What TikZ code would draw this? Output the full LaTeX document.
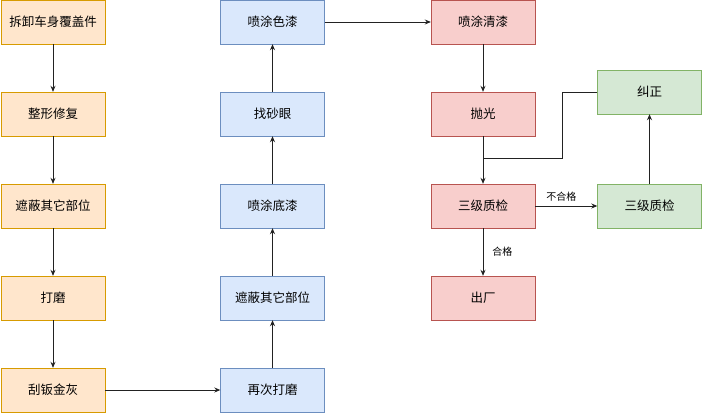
\documentclass[tikz,border=0pt]{standalone}
\usepackage{fontspec}
\setmainfont{Noto Sans CJK SC}
\usetikzlibrary{arrows.meta, positioning}
\definecolor{orfill}{HTML}{FFE6CC}\definecolor{ordraw}{HTML}{D79B00}
\definecolor{blfill}{HTML}{DAE8FC}\definecolor{bldraw}{HTML}{6C8EBF}
\definecolor{rdfill}{HTML}{F8CECC}\definecolor{rddraw}{HTML}{B85450}
\definecolor{grfill}{HTML}{D5E8D4}\definecolor{grdraw}{HTML}{82B366}
\definecolor{lncol}{HTML}{222222}
\tikzset{
	box/.style={draw, minimum width=104pt, minimum height=44pt, inner sep=0pt, font=\fontsize{12.5}{14}\selectfont},
	orbox/.style={box, fill=orfill, draw=ordraw},
	blbox/.style={box, fill=blfill, draw=bldraw},
	rdbox/.style={box, fill=rdfill, draw=rddraw},
	grbox/.style={box, fill=grfill, draw=grdraw},
	flow/.style={draw=lncol, line width=0.8pt, -{Stealth[length=6pt, width=5pt]}},
	tag/.style={font=\fontsize{10}{12}\selectfont, fill=white, inner sep=1pt}
}
\begin{document}
\begin{tikzpicture}[x=1pt, y=-1pt]
		\useasboundingbox (0,0) rectangle (703,413);

		% left column
		\node [orbox] (dismantle) at (53,22) {拆卸车身覆盖件};
		\node [orbox] (reshape) at (53,114) {整形修复};
		\node [orbox] (mask1) at (53,206) {遮蔽其它部位};
		\node [orbox] (sand1) at (53,298) {打磨};
		\node [orbox] (putty) at (53,390) {刮钣金灰};

		% second column
		\node [blbox] (sand2) at (272.5,390) {再次打磨};
		\node [blbox] (mask2) at (272.5,298) {遮蔽其它部位};
		\node [blbox] (primer) at (272.5,206) {喷涂底漆};
		\node [blbox] (pinhole) at (272.5,114) {找砂眼};
		\node [blbox] (colour) at (272.5,22) {喷涂色漆};

		% third column
		\node [rdbox] (clear) at (483,22) {喷涂清漆};
		\node [rdbox] (polish) at (483,114) {抛光};
		\node [rdbox] (check1) at (483,206) {三级质检};
		\node [rdbox] (exit) at (483,298) {出厂};

		% rework
		\node [grbox] (check2) at (649.5,206) {三级质检};
		\node [grbox] (fix) at (649.5,92) {纠正};

		\draw [flow] (dismantle) -- (reshape);
		\draw [flow] (reshape) -- (mask1);
		\draw [flow] (mask1) -- (sand1);
		\draw [flow] (sand1) -- (putty);
		\draw [flow] (putty) -- (sand2);
		\draw [flow] (sand2) -- (mask2);
		\draw [flow] (mask2) -- (primer);
		\draw [flow] (primer) -- (pinhole);
		\draw [flow] (pinhole) -- (colour);
		\draw [flow] (colour) -- (clear);
		\draw [flow] (clear) -- (polish);
		\draw [flow] (polish) -- (check1);
		\draw [flow] (check1) -- node[tag, right=8pt] {合格} (exit);
		\draw [flow] (check1) -- node[tag, above=3pt, xshift=-5pt] {不合格} (check2);
		\draw [flow] (check2) -- (fix);

		\coordinate (merge) at (483,158);
		\draw [draw=lncol, line width=0.8pt] (fix.west) -- ++(-35,0) |- (merge);
	\end{tikzpicture}
\end{document}
